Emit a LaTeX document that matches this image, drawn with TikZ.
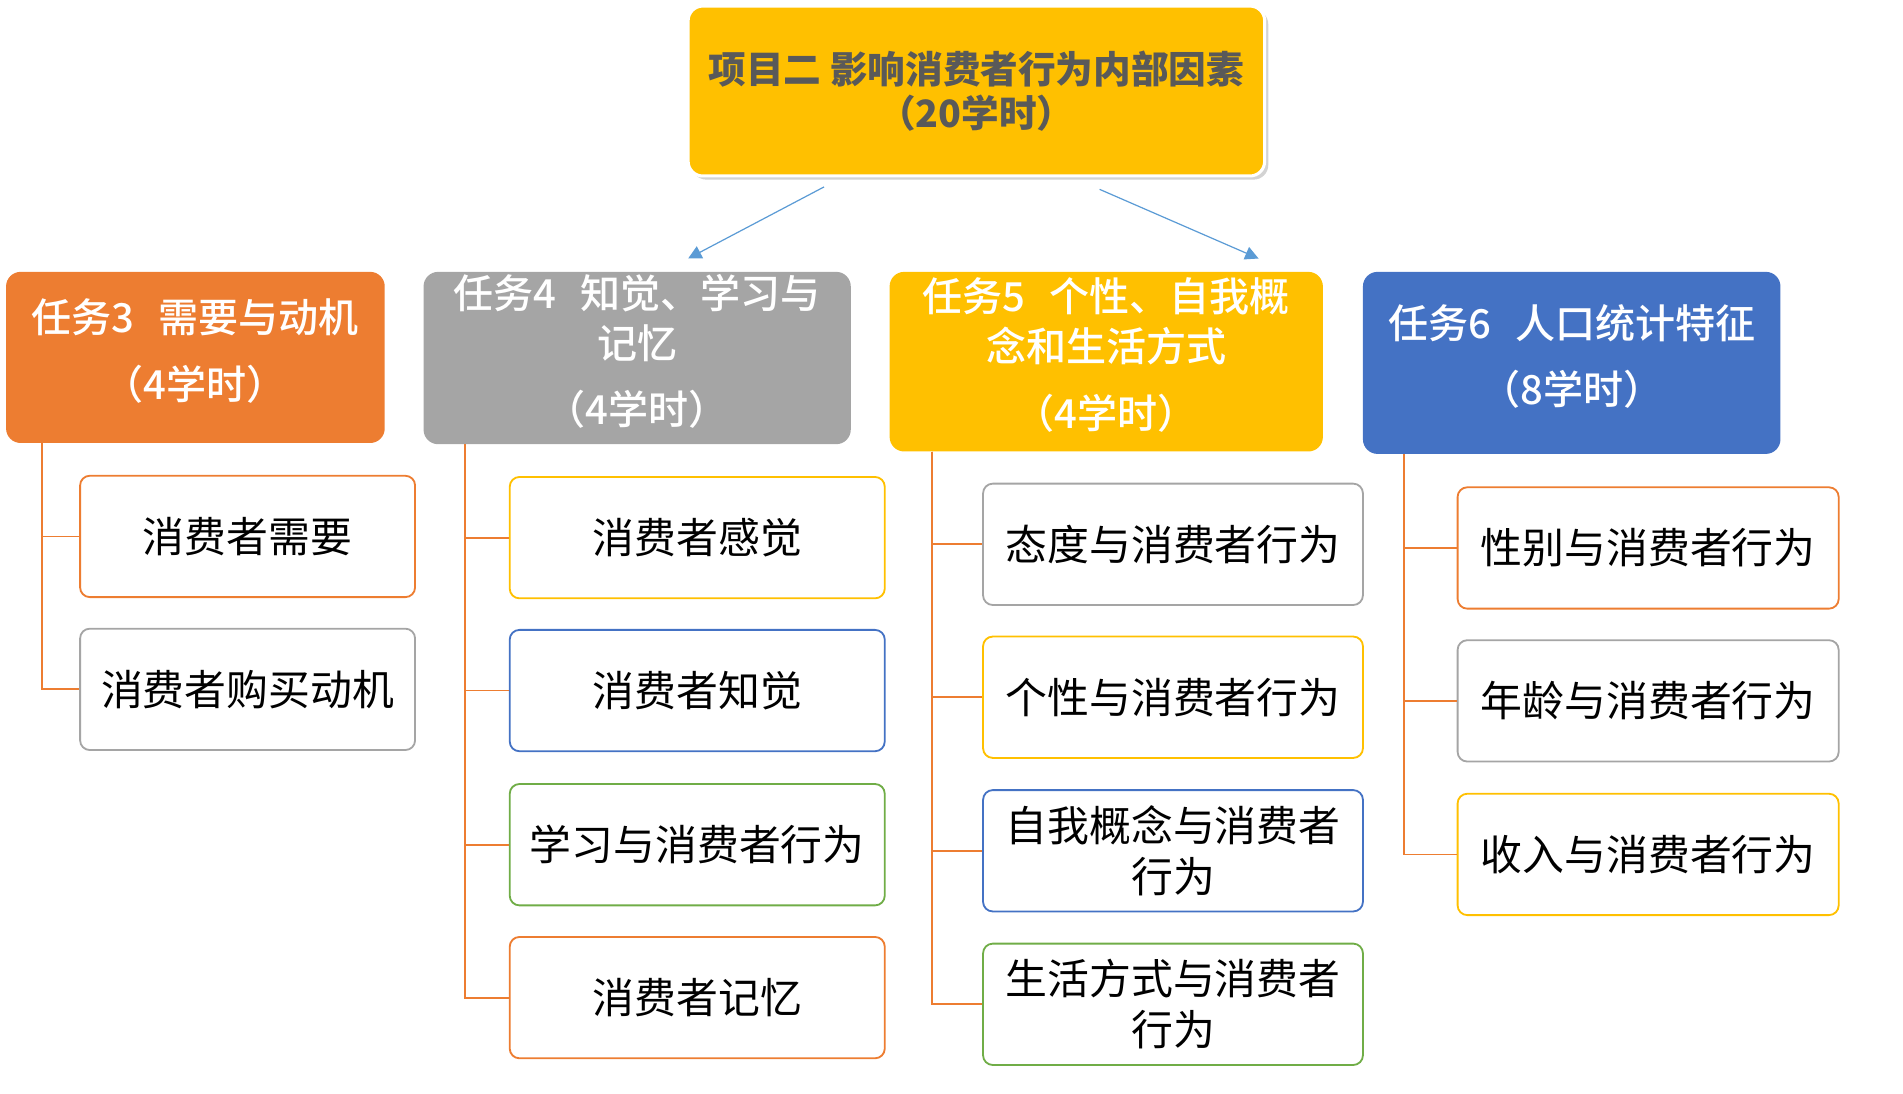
\documentclass[tikz,border=0pt]{standalone}
\usepackage{fontspec}
\setmainfont{Noto Sans CJK SC}
\newfontfamily\taskfont{Noto Sans CJK SC Medium}
\usetikzlibrary{arrows.meta,shadows}
\definecolor{orangeA}{HTML}{ED7D31}
\definecolor{grayA}{HTML}{A5A5A5}
\definecolor{goldA}{HTML}{FFC000}
\definecolor{blueA}{HTML}{4472C4}
\definecolor{greenA}{HTML}{70AD47}
\definecolor{lineA}{HTML}{5B9BD5}
\definecolor{textA}{HTML}{595959}
\begin{document}
\begin{tikzpicture}[x=1pt,y=-1pt,
    task/.style={rounded corners=12pt, text=white, align=center, inner sep=0pt, text depth=14pt, font=\taskfont\fontsize{33}{41}\selectfont},
    item/.style={draw, line width=1.5pt, fill=white, rounded corners=8pt, align=center, inner sep=0pt, minimum height=100pt, font=\fontsize{34.5}{42}\selectfont},
    link/.style={orangeA, line width=1.5pt},
    arrow/.style={lineA, line width=1pt, -{Triangle[length=11pt,width=11pt]}}]
    \useasboundingbox (0,0) rectangle (1568,901.4);
    % project
    \node[fill=goldA, draw=white, line width=2.5pt, rounded corners=12pt, minimum width=475pt, minimum height=140pt, align=center, text=textA,
        font=\bfseries\fontsize{31}{36}\selectfont, drop shadow={shadow xshift=3pt, shadow yshift=-3pt, opacity=0.35}]
        (top) at (804.5,75) {项目二 影响消费者行为内部因素\\（20学时）};
    \coordinate (a1) at (679,154);
    \coordinate (a2) at (567,213);
    \coordinate (b1) at (906,156);
    \coordinate (b2) at (1037,213);
    \draw[arrow] (a1) -- (a2);
    \draw[arrow] (b1) -- (b2);
    % tasks
    \node[task, fill=orangeA, minimum width=312pt, minimum height=141pt] (t3) at (161,294.5) {任务3\hspace{0.6em}需要与动机\\[14pt]（4学时）};
    \node[task, fill=grayA, minimum width=352pt, minimum height=142pt] (t4) at (525,295) {任务4\hspace{0.6em}知觉、学习与\\记忆\\[14pt]（4学时）};
    \node[task, fill=goldA, minimum width=357pt, minimum height=148pt] (t5) at (911.5,298) {任务5\hspace{0.6em}个性、自我概\\念和生活方式\\[14pt]（4学时）};
    \node[task, fill=blueA, minimum width=344pt, minimum height=150pt] (t6) at (1295,299) {任务6\hspace{0.6em}人口统计特征\\[14pt]（8学时）};
    % task 3
    \node[item, draw=orangeA, minimum width=276pt] (c31) at (204,442) {消费者需要};
    \node[item, draw=grayA, minimum width=276pt] (c32) at (204,568) {消费者购买动机};
    % task 4
    \node[item, draw=goldA, minimum width=309pt] (c41) at (574.5,443) {消费者感觉};
    \node[item, draw=blueA, minimum width=309pt] (c42) at (574.5,569) {消费者知觉};
    \node[item, draw=greenA, minimum width=309pt] (c43) at (574.5,696) {学习与消费者行为};
    \node[item, draw=orangeA, minimum width=309pt] (c44) at (574.5,822) {消费者记忆};
    % task 5
    \node[item, draw=grayA, minimum width=313pt] (c51) at (966.5,448.5) {态度与消费者行为};
    \node[item, draw=goldA, minimum width=313pt] (c52) at (966.5,574.5) {个性与消费者行为};
    \node[item, draw=blueA, minimum width=313pt] (c53) at (966.5,701) {自我概念与消费者\\行为};
    \node[item, draw=greenA, minimum width=313pt] (c54) at (966.5,827.5) {生活方式与消费者\\行为};
    % task 6
    \node[item, draw=orangeA, minimum width=314pt] (c61) at (1358,451.5) {性别与消费者行为};
    \node[item, draw=grayA, minimum width=314pt] (c62) at (1358,577.5) {年龄与消费者行为};
    \node[item, draw=goldA, minimum width=314pt] (c63) at (1358,704) {收入与消费者行为};
    % links
    \foreach \c in {c31,c32} \draw[link] ([xshift=30pt]t3.south west) |- (\c.west);
    \foreach \c in {c41,c42,c43,c44} \draw[link] ([xshift=34pt]t4.south west) |- (\c.west);
    \foreach \c in {c51,c52,c53,c54} \draw[link] ([xshift=35pt]t5.south west) |- (\c.west);
    \foreach \c in {c61,c62,c63} \draw[link] ([xshift=34pt]t6.south west) |- (\c.west);
\end{tikzpicture}
\end{document}
